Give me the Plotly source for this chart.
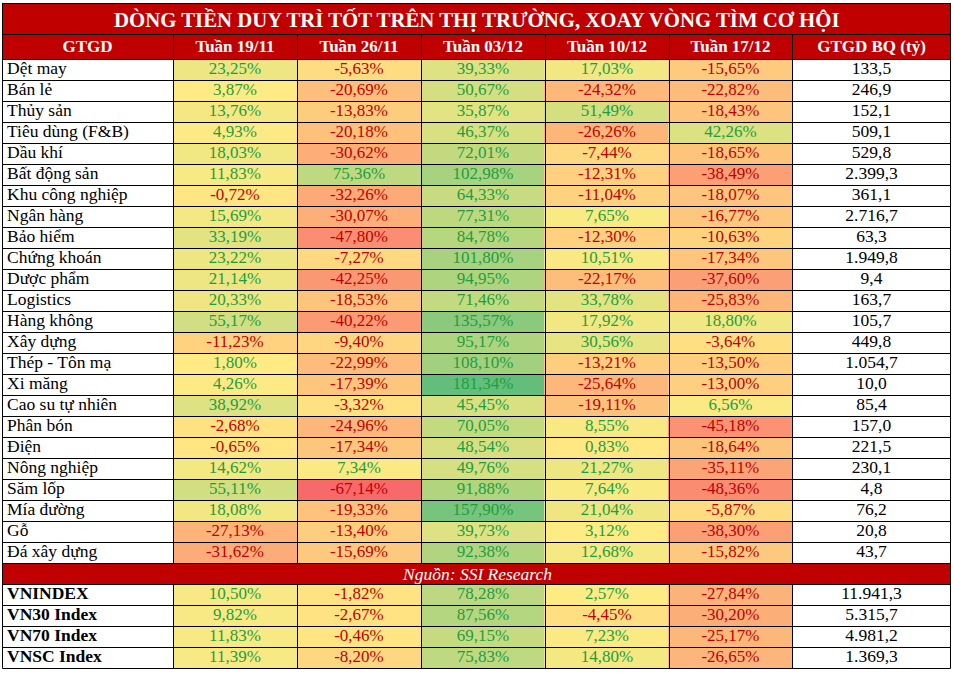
import numpy as np
import plotly.graph_objects as go

# ---------------- data ----------------
title_text = "DÒNG TIỀN DUY TRÌ TỐT TRÊN THỊ TRƯỜNG, XOAY VÒNG TÌM CƠ HỘI"
source_text = "Nguồn: SSI Research"
headers = ["GTGD", "Tuần 19/11", "Tuần 26/11", "Tuần 03/12", "Tuần 10/12", "Tuần 17/12", "GTGD BQ (tỷ)"]

sectors = ["Dệt may", "Bán lẻ", "Thủy sản", "Tiêu dùng (F&B)", "Dầu khí", "Bất động sản",
           "Khu công nghiệp", "Ngân hàng", "Bảo hiểm", "Chứng khoán", "Dược phẩm", "Logistics",
           "Hàng không", "Xây dựng", "Thép - Tôn mạ", "Xi măng", "Cao su tự nhiên", "Phân bón",
           "Điện", "Nông nghiệp", "Săm lốp", "Mía đường", "Gỗ", "Đá xây dựng"]
sec_1911 = [23.25, 3.87, 13.76, 4.93, 18.03, 11.83, -0.72, 15.69, 33.19, 23.22, 21.14, 20.33,
            55.17, -11.23, 1.80, 4.26, 38.92, -2.68, -0.65, 14.62, 55.11, 18.08, -27.13, -31.62]
sec_2611 = [-5.63, -20.69, -13.83, -20.18, -30.62, 75.36, -32.26, -30.07, -47.80, -7.27, -42.25, -18.53,
            -40.22, -9.40, -22.99, -17.39, -3.32, -24.96, -17.34, 7.34, -67.14, -19.33, -13.40, -15.69]
sec_0312 = [39.33, 50.67, 35.87, 46.37, 72.01, 102.98, 64.33, 77.31, 84.78, 101.80, 94.95, 71.46,
            135.57, 95.17, 108.10, 181.34, 45.45, 70.05, 48.54, 49.76, 91.88, 157.90, 39.73, 92.38]
sec_1012 = [17.03, -24.32, 51.49, -26.26, -7.44, -12.31, -11.04, 7.65, -12.30, 10.51, -22.17, 33.78,
            17.92, 30.56, -13.21, -25.64, -19.11, 8.55, 0.83, 21.27, 7.64, 21.04, 3.12, 12.68]
sec_1712 = [-15.65, -22.82, -18.43, 42.26, -18.65, -38.49, -18.07, -16.77, -10.63, -17.34, -37.60, -25.83,
            18.80, -3.64, -13.50, -13.00, 6.56, -45.18, -18.64, -35.11, -48.36, -5.87, -38.30, -15.82]
sec_avg = [133.5, 246.9, 152.1, 509.1, 529.8, 2399.3, 361.1, 2716.7, 63.3, 1949.8, 9.4, 163.7,
           105.7, 449.8, 1054.7, 10.0, 85.4, 157.0, 221.5, 230.1, 4.8, 76.2, 20.8, 43.7]

indices = ["VNINDEX", "VN30 Index", "VN70 Index", "VNSC Index"]
idx_1911 = [10.50, 9.82, 11.83, 11.39]
idx_2611 = [-1.82, -2.67, -0.46, -8.20]
idx_0312 = [78.28, 87.56, 69.15, 75.83]
idx_1012 = [2.57, -4.45, 7.23, 14.80]
idx_1712 = [-27.84, -30.20, -25.17, -26.65]
idx_avg = [11941.3, 5315.7, 4981.2, 1369.3]

# ---------------- layout constants ----------------
W, H = 954, 673
col_edges = [2, 173, 297, 421, 545, 669, 792, 951]
title_top, title_bot, head_bot, row_h = 3, 34, 59, 21
RED = "#C00000"
POS_C = "#1E9E40"
NEG_C = "#C00000"
FONT = "Liberation Serif, Times New Roman, serif"

n_sec = len(sectors)
sec_edges = [head_bot + row_h * i for i in range(n_sec + 1)]
src_top, src_bot = sec_edges[-1], sec_edges[-1] + row_h
idx_edges = [src_bot + row_h * i for i in range(len(indices) + 1)]
table_bot = idx_edges[-1]

sec_z = np.array([sec_1911, sec_2611, sec_0312, sec_1012, sec_1712]).T
idx_z = np.array([idx_1911, idx_2611, idx_0312, idx_1012, idx_1712]).T
all_vals = np.concatenate([sec_z.ravel(), idx_z.ravel()])
vmin, vmax, vmed = all_vals.min(), all_vals.max(), np.median(all_vals)
pmid = (vmed - vmin) / (vmax - vmin)
colorscale = [[0, "#F8696B"], [pmid, "#FFEB84"], [1, "#63BE7B"]]


def fmt_pct(v):
    return f"{v:.2f}".replace(".", ",") + "%"


def fmt_num(v):
    return f"{v:,.1f}".replace(",", "X").replace(".", ",").replace("X", ".")


def centers(edges):
    return [(a + b) / 2 for a, b in zip(edges[:-1], edges[1:])]


col_c = centers(col_edges)
sec_c = centers(sec_edges)
idx_c = centers(idx_edges)

fig = go.Figure()

# conditional-format fills
for z, ye in [(sec_z, sec_edges), (idx_z, idx_edges)]:
    fig.add_trace(go.Heatmap(z=z, x=col_edges[1:7], y=ye, coloraxis="coloraxis",
                             hoverinfo="skip", zsmooth=False))

# red bands (title, header, source)
for y0, y1 in [(title_top, title_bot), (title_bot, head_bot), (src_top, src_bot)]:
    fig.add_shape(type="rect", x0=col_edges[0], x1=col_edges[-1], y0=y0, y1=y1,
                  fillcolor=RED, line_width=0, layer="below")

# grid lines
gx, gy = [], []
for ye in [title_bot, head_bot] + sec_edges[1:] + idx_edges[:-1]:
    gx += [col_edges[0], col_edges[-1], None]
    gy += [ye + 0.5, ye + 0.5, None]
for xe in col_edges[1:-1]:
    gx += [xe + 0.5, xe + 0.5, None, xe + 0.5, xe + 0.5, None]
    gy += [title_bot, src_top, None, src_bot, table_bot, None]
# outer border
gx += [col_edges[0] + 0.5, col_edges[-1] - 0.5, col_edges[-1] - 0.5, col_edges[0] + 0.5, col_edges[0] + 0.5]
gy += [title_top + 0.5, title_top + 0.5, table_bot + 0.5, table_bot + 0.5, title_top + 0.5]
fig.add_trace(go.Scatter(x=gx, y=gy, mode="lines", line=dict(color="black", width=1),
                         hoverinfo="skip", showlegend=False))

# percentage texts
for z, yc in [(sec_z, sec_c), (idx_z, idx_c)]:
    xs, ys, ts, cs = [], [], [], []
    for r in range(z.shape[0]):
        for c in range(z.shape[1]):
            v = z[r, c]
            xs.append(col_c[c + 1]); ys.append(yc[r] + 0.5)
            ts.append(fmt_pct(v)); cs.append(POS_C if v >= 0 else NEG_C)
    fig.add_trace(go.Scatter(x=xs, y=ys, mode="text", text=ts, textposition="middle center",
                             textfont=dict(family=FONT, size=17, color=cs),
                             hoverinfo="skip", showlegend=False))

# row labels
fig.add_trace(go.Scatter(x=[col_edges[0] + 5] * n_sec, y=[y + 0.5 for y in sec_c], mode="text",
                         text=sectors, textposition="middle right",
                         textfont=dict(family=FONT, size=17.5, color="black"),
                         hoverinfo="skip", showlegend=False))
fig.add_trace(go.Scatter(x=[col_edges[0] + 5] * len(indices), y=[y + 0.5 for y in idx_c], mode="text",
                         text=["<b>%s</b>" % s for s in indices], textposition="middle right",
                         textfont=dict(family=FONT, size=17.5, color="black"),
                         hoverinfo="skip", showlegend=False))

# average trading value
fig.add_trace(go.Scatter(x=[col_c[-1]] * (n_sec + len(indices)),
                         y=[y + 0.5 for y in sec_c + idx_c], mode="text",
                         text=[fmt_num(v) for v in sec_avg + idx_avg], textposition="middle center",
                         textfont=dict(family=FONT, size=17.5, color="black"),
                         hoverinfo="skip", showlegend=False))

# header
fig.add_trace(go.Scatter(x=col_c, y=[(title_bot + head_bot) / 2 + 1] * len(headers), mode="text",
                         text=["<b>%s</b>" % h for h in headers], textposition="middle center",
                         textfont=dict(family=FONT, size=17, color="white"),
                         hoverinfo="skip", showlegend=False))

# title & source
fig.add_annotation(x=(col_edges[0] + col_edges[-1]) / 2, y=(title_top + title_bot) / 2 + 1,
                   text="<b>%s</b>" % title_text, showarrow=False,
                   font=dict(family=FONT, size=20.8, color="white"))
fig.add_annotation(x=(col_edges[0] + col_edges[-1]) / 2, y=(src_top + src_bot) / 2 + 0.5,
                   text="<i>%s</i>" % source_text, showarrow=False,
                   font=dict(family=FONT, size=17.5, color="white"))

fig.update_layout(
    width=W, height=H, margin=dict(l=0, r=0, t=0, b=0),
    paper_bgcolor="white", plot_bgcolor="white", showlegend=False,
    xaxis=dict(range=[0, W], visible=False, fixedrange=True),
    yaxis=dict(range=[H, 0], visible=False, fixedrange=True),
    coloraxis=dict(colorscale=colorscale, cmin=vmin, cmax=vmax, showscale=False),
)

fig.write_html("out.html", config={"displayModeBar": False},
               post_script="document.body.style.margin='0';document.body.style.overflow='hidden';")
